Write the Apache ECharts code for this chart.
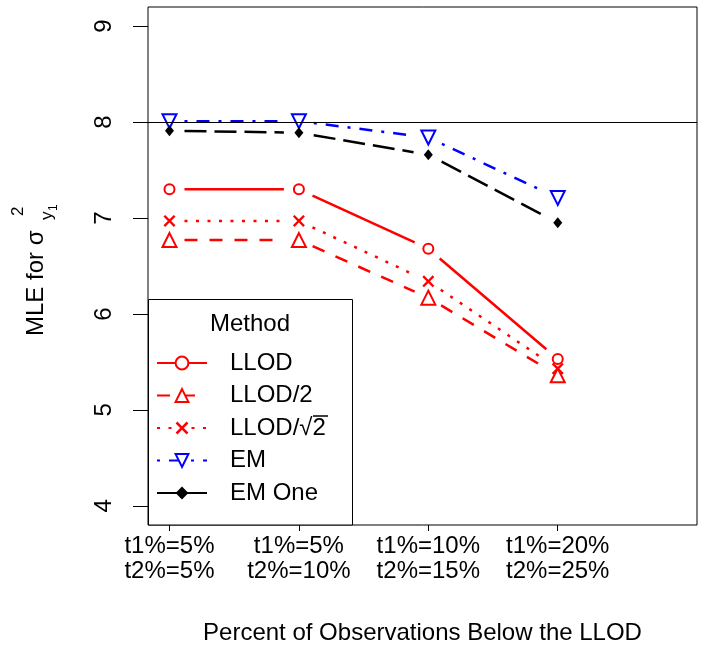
<!DOCTYPE html>
<html>
<head>
<meta charset="utf-8">
<script src="https://cdn.jsdelivr.net/npm/echarts@6/dist/echarts.min.js"></script>
<style>
  html, body { margin: 0; padding: 0; background: #fff; }
  #chart { width: 705px; height: 650px; }
</style>
</head>
<body>
<div id="chart"></div>
<script>
// chart data
const categories = ['t1%=5%\nt2%=5%', 't1%=5%\nt2%=10%', 't1%=10%\nt2%=15%', 't1%=20%\nt2%=25%'];
const xPos = [0, 1, 2, 3];
const llod = [7.30, 7.30, 6.68, 5.53];
const llodHalf = [6.77, 6.77, 6.17, 5.36];
const llodRoot2 = [6.97, 6.97, 6.34, 5.43];
const em = [8.01, 8.01, 7.84, 7.21];
const emOne = [7.91, 7.89, 7.66, 6.95];
const yTicks = [4, 5, 6, 7, 8, 9];
const refLine = 8;

const FONT = "'Liberation Sans', Arial, sans-serif";
const GAP = 15; // R type = "b": segments stop short of the points
const xShape = 'path://M0,1.4L1.4,0L5,3.6L8.6,0L10,1.4L6.4,5L10,8.6L8.6,10L5,6.4L1.4,10L0,8.6L3.6,5Z';

const methods = [
  { name: 'LLOD', data: llod, color: '#ff0000', dash: 'solid', symbol: 'emptyCircle', size: 10, rotate: 0 },
  { name: 'LLOD/2', data: llodHalf, color: '#ff0000', dash: [13, 12], symbol: 'emptyTriangle', size: 14, rotate: 0 },
  { name: 'LLOD/√2', data: llodRoot2, color: '#ff0000', dash: [3, 8.5], symbol: xShape, size: 12, rotate: 0 },
  { name: 'EM', data: em, color: '#0000ff', dash: [3, 9, 13, 9], symbol: 'emptyTriangle', size: 14, rotate: 180 },
  { name: 'EM One', data: emOne, color: '#000000', dash: [22, 8], symbol: 'diamond', size: [9, 11], rotate: 0 },
];

const series = [];

// line segments between the points, with gaps
methods.forEach((m) => {
  const segs = m.data.slice(0, -1).map((v, i) => [xPos[i], v, xPos[i + 1], m.data[i + 1]]);
  series.push({
    type: 'custom',
    z: 2,
    silent: true,
    encode: { x: [0, 2], y: [1, 3] },
    data: segs,
    renderItem: (params, api) => {
      const a = api.coord([api.value(0), api.value(1)]);
      const b = api.coord([api.value(2), api.value(3)]);
      const dx = b[0] - a[0];
      const dy = b[1] - a[1];
      const len = Math.sqrt(dx * dx + dy * dy);
      if (len <= 2 * GAP) return null;
      const ux = dx / len;
      const uy = dy / len;
      return {
        type: 'line',
        shape: { x1: a[0] + ux * GAP, y1: a[1] + uy * GAP, x2: b[0] - ux * GAP, y2: b[1] - uy * GAP },
        style: { stroke: m.color, lineWidth: 2.5, lineDash: m.dash === 'solid' ? null : m.dash, fill: null },
      };
    },
  });
});

// the points (these also give the legend its icons)
methods.forEach((m, i) => {
  const s = {
    name: m.name,
    type: 'line',
    z: 3,
    data: xPos.map((x, j) => [x, m.data[j]]),
    symbol: m.symbol,
    symbolSize: m.size,
    symbolRotate: m.rotate,
    lineStyle: { color: m.color, width: 2.5, type: m.dash, opacity: 0 },
    itemStyle: { color: m.color, borderWidth: 2 },
    emphasis: { disabled: true },
  };
  if (i === methods.length - 1) {
    // horizontal reference line
    s.markLine = {
      silent: true,
      symbol: 'none',
      label: { show: false },
      lineStyle: { color: '#000', width: 1.2, type: 'solid', opacity: 1 },
      data: [{ yAxis: refLine }],
    };
  }
  series.push(s);
});

const myChart = echarts.init(document.getElementById('chart'));

myChart.setOption({
  animation: false,
  backgroundColor: '#fff',
  grid: {
    left: 148,
    top: 7,
    width: 549,
    height: 518,
    show: true,
    borderColor: '#000',
    borderWidth: 1,
    backgroundColor: 'transparent',
  },
  xAxis: {
    type: 'value',
    min: -0.166,
    max: 4.076,
    name: 'Percent of Observations Below the LLOD',
    nameLocation: 'middle',
    nameGap: 96,
    nameTextStyle: { fontFamily: FONT, fontSize: 24, color: '#000' },
    axisLine: { show: false, onZero: false },
    splitLine: { show: false },
    axisTick: { show: true, length: 6, customValues: xPos, lineStyle: { color: '#000' } },
    axisLabel: {
      customValues: xPos,
      formatter: (v) => categories[Math.round(v)],
      fontFamily: FONT,
      fontSize: 24,
      lineHeight: 25,
      color: '#000',
      margin: 9,
    },
  },
  yAxis: {
    type: 'value',
    min: 3.8,
    max: 9.2,
    axisLine: { show: false, onZero: false },
    splitLine: { show: false },
    axisTick: { show: true, length: 15, customValues: yTicks, lineStyle: { color: '#000' } },
    axisLabel: {
      customValues: yTicks,
      rotate: 90,
      align: 'center',
      verticalAlign: 'bottom',
      fontFamily: FONT,
      fontSize: 24,
      lineHeight: 24,
      color: '#000',
      margin: 32,
    },
  },
  legend: {
    data: methods.map((m) => m.name),
    z: 20,
    orient: 'vertical',
    left: 156,
    top: 351,
    padding: 0,
    itemWidth: 50,
    itemHeight: 16,
    itemGap: 8.5,
    selectedMode: false,
    lineStyle: { opacity: 1 },
    textStyle: { fontFamily: FONT, fontSize: 24, lineHeight: 24, color: '#000', padding: [0, 0, 0, 18] },
  },
  graphic: [
    {
      type: 'rect',
      z: 10,
      silent: true,
      shape: { x: 148.5, y: 299.5, width: 204, height: 225.5 },
      style: { fill: '#fff', stroke: '#000', lineWidth: 1 },
    },
    {
      type: 'text',
      z: 21,
      silent: true,
      x: 250,
      y: 324,
      style: { text: 'Method', font: '24px ' + FONT, fill: '#000', align: 'center', verticalAlign: 'middle', textAlign: 'center', textVerticalAlign: 'middle' },
    },
    {
      // overline of the square root in the legend
      type: 'line',
      z: 21,
      silent: true,
      shape: { x1: 313, y1: 416, x2: 328, y2: 416 },
      style: { stroke: '#000', lineWidth: 1.5 },
    },
    {
      type: 'text',
      silent: true,
      x: 36,
      y: 336,
      rotation: Math.PI / 2,
      style: { text: 'MLE for σ', font: '24px ' + FONT, fill: '#000', align: 'left', verticalAlign: 'middle', textAlign: 'left', textVerticalAlign: 'middle' },
    },
    {
      type: 'text',
      silent: true,
      x: 18,
      y: 216,
      rotation: Math.PI / 2,
      style: { text: '2', font: '17px ' + FONT, fill: '#000', align: 'left', verticalAlign: 'middle', textAlign: 'left', textVerticalAlign: 'middle' },
    },
    {
      type: 'text',
      silent: true,
      x: 47,
      y: 220,
      rotation: Math.PI / 2,
      style: { text: 'y', font: '17px ' + FONT, fill: '#000', align: 'left', verticalAlign: 'middle', textAlign: 'left', textVerticalAlign: 'middle' },
    },
    {
      type: 'text',
      silent: true,
      x: 54,
      y: 211,
      rotation: Math.PI / 2,
      style: { text: '1', font: '12px ' + FONT, fill: '#000', align: 'left', verticalAlign: 'middle', textAlign: 'left', textVerticalAlign: 'middle' },
    },
  ],
  series: series,
});
</script>
</body>
</html>
